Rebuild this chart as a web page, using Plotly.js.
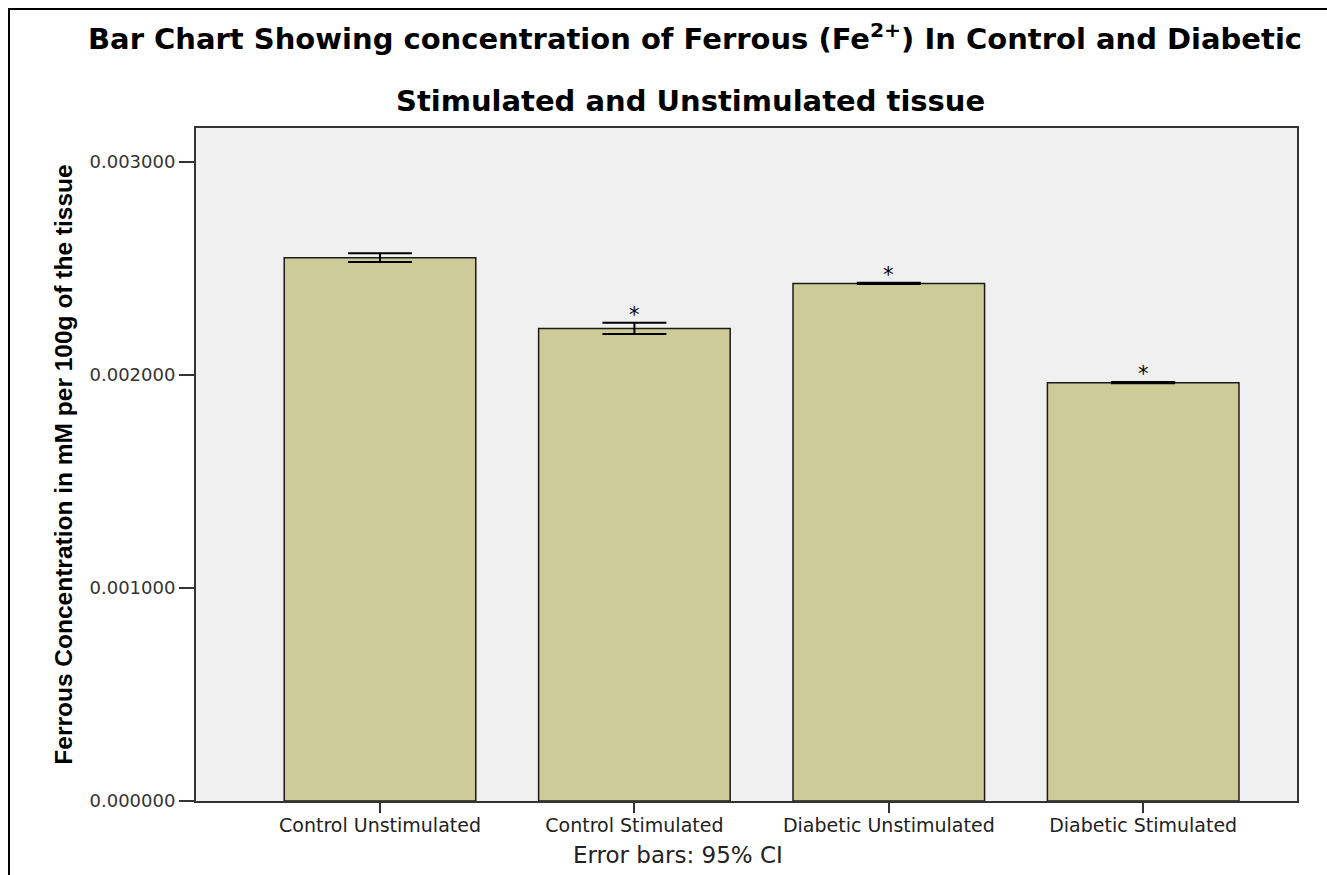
<!DOCTYPE html>
<html>
<head>
<meta charset="utf-8">
<script src="https://cdn.plot.ly/plotly-3.0.1.min.js"></script>
<style>
  html, body { margin: 0; padding: 0; background: #fff; }
  #wrap { position: relative; width: 1327px; height: 875px; overflow: hidden; }
  #chart { position: absolute; left: 0; top: 0; width: 1327px; height: 875px; }
  #frame { position: absolute; left: 8px; top: 8px; width: 1400px; height: 1000px;
           border-left: 2px solid #000; border-top: 2px solid #000; pointer-events: none; }
</style>
</head>
<body>
<div id="wrap">
  <div id="chart"></div>
  <div id="frame"></div>
</div>
<script>
// ---- data ----
const categories = ["Control Unstimulated", "Control Stimulated", "Diabetic Unstimulated", "Diabetic Stimulated"];
const meanValues = [0.002551, 0.002219, 0.002430, 0.001964];
const ciHalfWidth = [0.0000205, 0.0000265, 0.000003, 0.000003];
const significance = ["", "*", "*", "*"];
const yTickValues = [0, 0.001, 0.002, 0.003];
const yTickLabels = ["0.000000", "0.001000", "0.002000", "0.003000"];

const titleLine1 = "Bar Chart Showing concentration of Ferrous (Fe<sup>2+</sup>) In Control and Diabetic";
const titleLine2 = "Stimulated and Unstimulated tissue";
const yTitle = "Ferrous Concentration in mM per 100g of the tissue";
const footnote = "Error bars: 95% CI";

const trace = {
  type: "bar",
  x: categories,
  y: meanValues,
  width: 0.753,
  marker: { color: "#cdcc99", line: { color: "#1a1a1a", width: 1.5 } },
  error_y: { type: "data", array: ciHalfWidth, visible: true, color: "#000", thickness: 2, width: 32 },
  hoverinfo: "x+y"
};

const starAnnotations = categories.map((c, i) => significance[i] ? {
  x: c, y: meanValues[i] + ciHalfWidth[i], xref: "x", yref: "y",
  text: significance[i], showarrow: false, yanchor: "bottom", yshift: -6,
  font: { family: "DejaVu Sans, Arial, sans-serif", size: 21, color: "#000" }
} : null).filter(a => a);

const layout = {
  width: 1327, height: 875,
  margin: { l: 196, r: 30, t: 128, b: 74, pad: 0 },
  paper_bgcolor: "rgba(0,0,0,0)",
  plot_bgcolor: "#f0f0f0",
  showlegend: false,
  title: {
    text: titleLine1,
    x: 695 / 1327, xanchor: "center", xref: "container",
    y: 1 - 39 / 875, yanchor: "middle", yref: "container",
    font: { family: "DejaVu Sans, Arial, sans-serif", size: 29, weight: "bold", color: "#000" }
  },
  xaxis: {
    type: "category",
    range: [-0.7233, 3.6046],
    showgrid: false, zeroline: false,
    showline: true, mirror: true, linecolor: "#333", linewidth: 2,
    ticks: "outside", ticklen: 10, tickwidth: 1.5, tickcolor: "#333",
    ticklabelstandoff: -4,
    tickfont: { family: "DejaVu Sans, Arial, sans-serif", size: 19, color: "#222" },
    fixedrange: true
  },
  yaxis: {
    range: [0, 0.00316],
    tickvals: yTickValues, ticktext: yTickLabels,
    showgrid: false, zeroline: false,
    showline: true, mirror: true, linecolor: "#333", linewidth: 2,
    ticks: "outside", ticklen: 15, tickwidth: 1.5, tickcolor: "#333",
    tickfont: { family: "DejaVu Sans, Arial, sans-serif", size: 18, color: "#333" },
    title: {
      text: yTitle, standoff: 10,
      font: { family: "Liberation Sans, Arial, sans-serif", size: 24.5, weight: "bold", color: "#000" }
    },
    fixedrange: true
  },
  annotations: [
    {
      text: titleLine2, xref: "paper", yref: "paper",
      x: (690 - 196) / 1101, y: (801 - 101) / 673, xanchor: "center", yanchor: "middle",
      showarrow: false,
      font: { family: "DejaVu Sans, Arial, sans-serif", size: 29, weight: "bold", color: "#000" }
    },
    {
      text: footnote, xref: "paper", yref: "paper",
      x: (678 - 196) / 1101, y: (801 - 855) / 673, xanchor: "center", yanchor: "middle",
      showarrow: false,
      font: { family: "DejaVu Sans, Arial, sans-serif", size: 23, color: "#222" }
    }
  ].concat(starAnnotations)
};

Plotly.newPlot("chart", [trace], layout, { displayModeBar: false });
</script>
</body>
</html>
